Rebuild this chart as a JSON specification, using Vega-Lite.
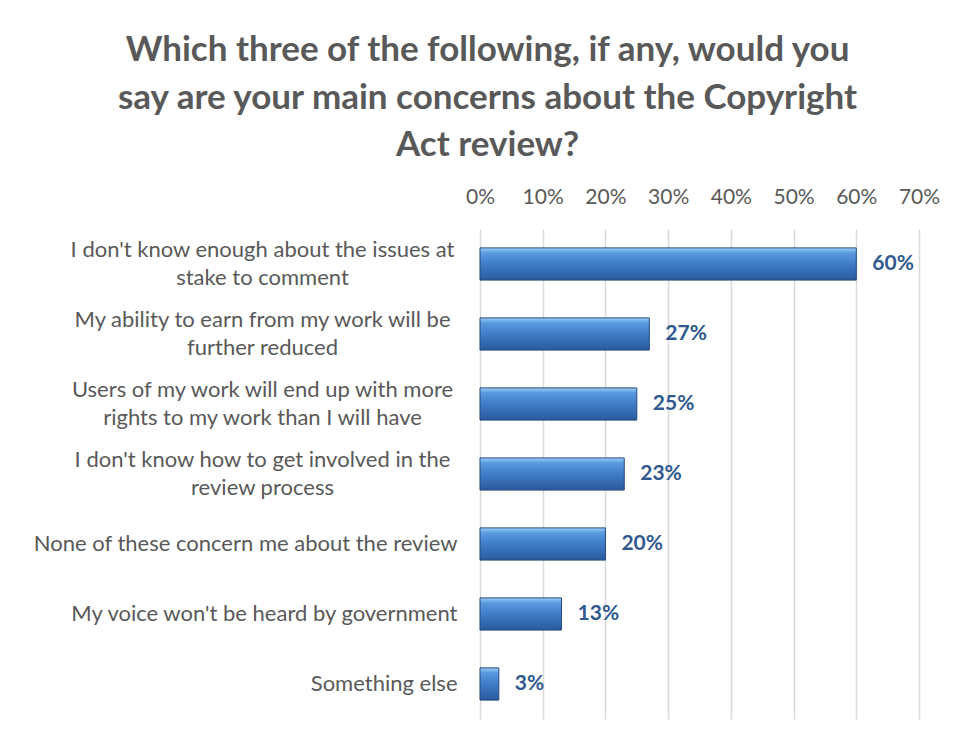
{
  "$schema": "https://vega.github.io/schema/vega-lite/v6.json",
  "width": 439,
  "height": 490,
  "autosize": {"type": "none"},
  "padding": {"left": 480, "top": 229, "right": 37, "bottom": 23},
  "background": "white",
  "config": {"view": {"stroke": null}, "font": "Lato"},
  "title": {
    "text": ["Which three of the following, if any, would you", "say are your main concerns about the Copyright", "Act review?"],
    "anchor": "middle",
    "frame": "group",
    "dx": -212,
    "fontSize": 35,
    "lineHeight": 47.5,
    "font": "Lato",
    "fontWeight": "bold",
    "color": "#595959",
    "offset": 23
  },
  "data": {
    "values": [
      {"label": "I don't know enough about the issues at|stake to comment", "value": 0.60},
      {"label": "My ability to earn from my work will be|further reduced", "value": 0.27},
      {"label": "Users of my work will end up with more|rights to my work than I will have", "value": 0.25},
      {"label": "I don't know how to get involved in the|review process", "value": 0.23},
      {"label": "None of these concern me about the review", "value": 0.20},
      {"label": "My voice won't be heard by government", "value": 0.13},
      {"label": "Something else", "value": 0.03}
    ]
  },
  "encoding": {
    "y": {
      "field": "label",
      "type": "nominal",
      "sort": null,
      "scale": {"paddingInner": 0.54, "paddingOuter": 0.27},
      "axis": {
        "title": null,
        "domain": false,
        "ticks": false,
        "labelExpr": "split(datum.value, '|')",
        "labelFontSize": 22,
        "labelColor": "#595959",
        "labelFont": "Lato",
        "labelLineHeight": 28,
        "labelLimit": 470,
        "labelAlign": {"condition": {"test": "indexof(datum.value, '|') >= 0", "value": "center"}, "value": "right"},
        "labelPadding": {"condition": {"test": "indexof(datum.value, '|') >= 0", "value": 218}, "value": 23},
        "labelOffset": {"condition": {"test": "indexof(datum.value, '|') >= 0", "value": -14}, "value": 0}
      }
    },
    "x": {
      "field": "value",
      "type": "quantitative",
      "scale": {"domain": [0, 0.7], "nice": false},
      "axis": {
        "orient": "top",
        "title": null,
        "format": ".0%",
        "values": [0, 0.1, 0.2, 0.3, 0.4, 0.5, 0.6, 0.7],
        "domain": false,
        "ticks": false,
        "grid": true,
        "gridColor": "#D9D9D9",
        "gridWidth": 1.5,
        "labelFontSize": 21,
        "labelColor": "#595959",
        "labelFont": "Lato",
        "labelPadding": 22,
        "labelOverlap": false,
        "labelFlush": false,
        "labelBound": false
      }
    }
  },
  "layer": [
    {
      "mark": {
        "type": "bar",
        "stroke": "#23497D",
        "strokeWidth": 1,
        "color": {
          "gradient": "linear",
          "x1": 0, "y1": 0, "x2": 0, "y2": 1,
          "stops": [
            {"offset": 0, "color": "#9FD0FA"},
            {"offset": 0.15, "color": "#5A9BE0"},
            {"offset": 0.5, "color": "#3F7CC8"},
            {"offset": 1, "color": "#2A5A9C"}
          ]
        }
      }
    },
    {
      "mark": {"type": "text", "align": "left", "dx": 16, "fontSize": 21, "fontWeight": "bold", "color": "#30598F", "font": "Lato"},
      "encoding": {"text": {"field": "value", "type": "quantitative", "format": ".0%"}}
    }
  ]
}
